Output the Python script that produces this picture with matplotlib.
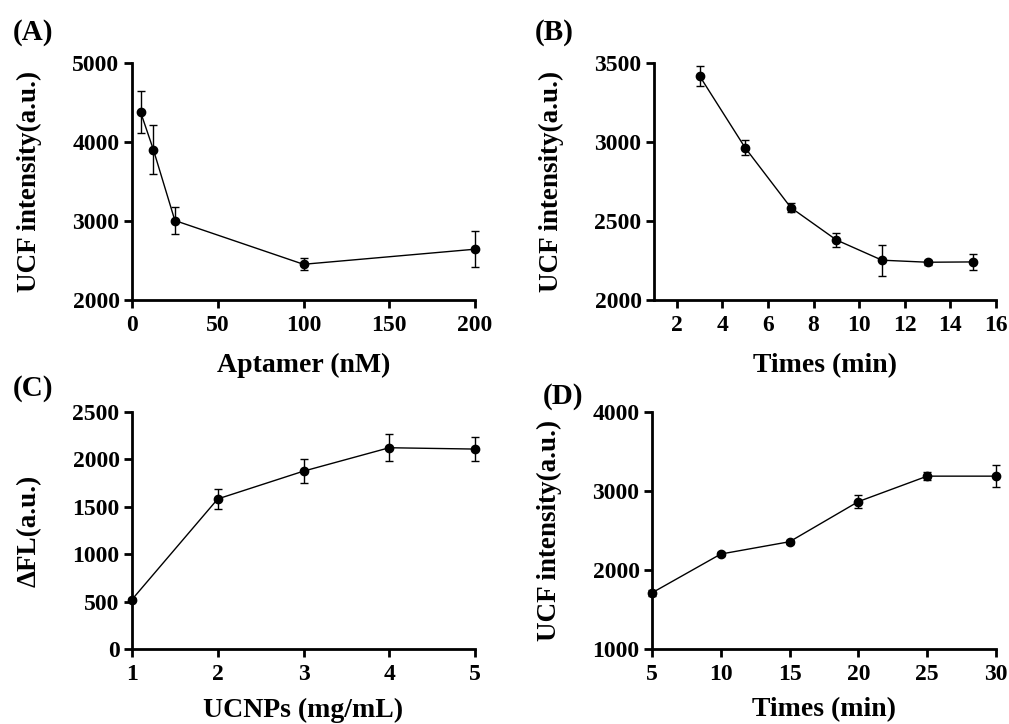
import matplotlib
matplotlib.use("Agg")
import matplotlib.pyplot as plt

plt.rcParams['font.family'] = ['Liberation Serif', 'DejaVu Serif']
plt.rcParams['font.weight'] = 'bold'

# (A) aptamer concentration
apt_x = [5, 12.5, 25, 100, 200]
apt_y = [4379, 3901, 3006, 2452, 2643]
apt_err = [268, 310, 165, 78, 230]

# (B) incubation time
timeB_x = [3, 5, 7, 9, 11, 13, 15]
timeB_y = [3418, 2963, 2585, 2380, 2252, 2239, 2241]
timeB_err = [65, 48, 30, 44, 98, 15, 51]

# (C) UCNPs amount
ucnp_x = [1, 2, 3, 4, 5]
ucnp_y = [522, 1583, 1876, 2123, 2109]
ucnp_err = [20, 109, 130, 143, 127]

# (D) reaction time
timeD_x = [5, 10, 15, 20, 25, 30]
timeD_y = [1711, 2202, 2358, 2866, 3188, 3188]
timeD_err = [40, 25, 25, 80, 55, 135]

W, H = 1009, 724
fig = plt.figure(figsize=(W / 100, H / 100), dpi=100)


def box(left, right, top, bottom):
    return [left / W, 1 - bottom / H, (right - left) / W, (bottom - top) / H]


panels = [
    ("(A)", box(132, 475, 63, 300), apt_x, apt_y, apt_err,
     (0, 200), [0, 50, 100, 150, 200], (2000, 5000), [2000, 3000, 4000, 5000],
     "Aptamer (nM)", "UCF intensity(a.u.)", (13, 32), -0.222),
    ("(B)", box(654, 996, 63, 300), timeB_x, timeB_y, timeB_err,
     (1, 16), [2, 4, 6, 8, 10, 12, 14, 16], (2000, 3500), [2000, 2500, 3000, 3500],
     "Times (min)", "UCF intensity(a.u.)", (535, 32), -0.222),
    ("(C)", box(132, 475, 412, 649), ucnp_x, ucnp_y, ucnp_err,
     (1, 5), [1, 2, 3, 4, 5], (0, 2500), [0, 500, 1000, 1500, 2000, 2500],
     "UCNPs (mg/mL)", "ΔFL(a.u.)", (13, 388), -0.205),
    ("(D)", box(652, 996, 412, 649), timeD_x, timeD_y, timeD_err,
     (5, 30), [5, 10, 15, 20, 25, 30], (1000, 4000), [1000, 2000, 3000, 4000],
     "Times (min)", "UCF intensity(a.u.)", (543, 396), -0.205),
]

for tag, rect, x, y, err, xl, xt, yl, yt, xlab, ylab, tpos, xly in panels:
    ax = fig.add_axes(rect)
    ax.errorbar(x, y, yerr=err, color='black', lw=1.0, marker='o', ms=6,
                capsize=2.7, elinewidth=1.0, capthick=1.0, clip_on=False, zorder=3)
    ax.set_xlim(*xl)
    ax.set_ylim(*yl)
    ax.set_xticks(xt)
    ax.set_yticks(yt)
    for s in ['top', 'right']:
        ax.spines[s].set_visible(False)
    for s in ['left', 'bottom']:
        ax.spines[s].set_linewidth(2.0)
    ax.tick_params(direction='out', length=6, width=2.0, labelsize=17)
    ax.tick_params(axis='x', pad=5)
    ax.tick_params(axis='y', pad=3)
    ax.set_xlabel(xlab, fontsize=20, fontweight='bold')
    ax.set_ylabel(ylab, fontsize=19.5, fontweight='bold')
    ax.xaxis.set_label_coords(0.5, xly)
    ax.yaxis.set_label_coords(-90 / (rect[2] * W), 0.5)
    fig.text(tpos[0] / W, 1 - tpos[1] / H, tag, fontsize=21, fontweight='bold',
             ha='left', va='center')

fig.savefig("out.png", dpi=100)
